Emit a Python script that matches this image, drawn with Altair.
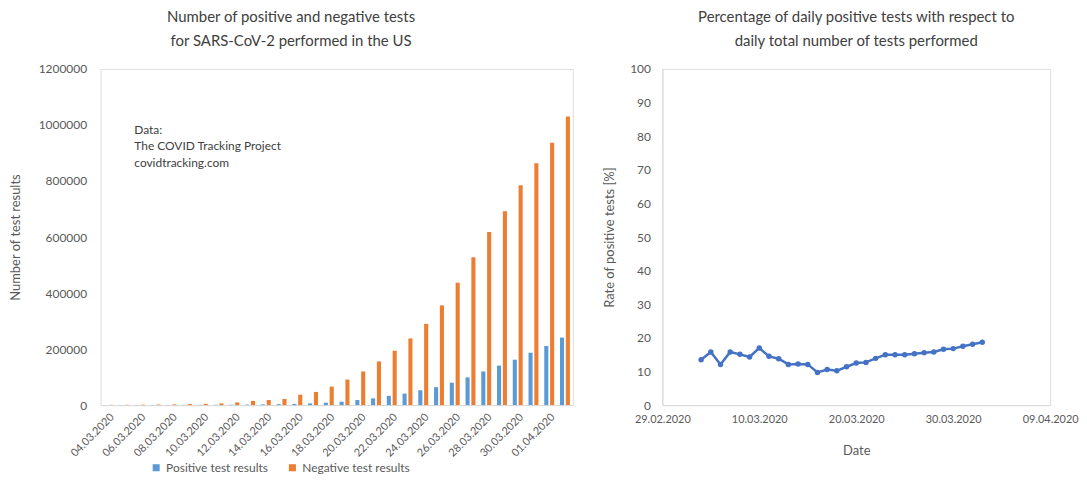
import altair as alt
import pandas as pd

# ---------------- data ----------------
dates = [
    "2020-03-04", "2020-03-05", "2020-03-06", "2020-03-07", "2020-03-08",
    "2020-03-09", "2020-03-10", "2020-03-11", "2020-03-12", "2020-03-13",
    "2020-03-14", "2020-03-15", "2020-03-16", "2020-03-17", "2020-03-18",
    "2020-03-19", "2020-03-20", "2020-03-21", "2020-03-22", "2020-03-23",
    "2020-03-24", "2020-03-25", "2020-03-26", "2020-03-27", "2020-03-28",
    "2020-03-29", "2020-03-30", "2020-03-31", "2020-04-01", "2020-04-02",
]
positive = [150, 200, 250, 350, 420, 580, 780, 1050, 1300, 1900,
            2500, 3200, 4000, 6000, 8500, 12000, 18000, 24000, 33000, 41000,
            53000, 64000, 80000, 99000, 120000, 141000, 162000, 187000, 211000, 241000]
negative = [800, 1000, 1500, 2000, 2500, 3500, 4500, 6000, 9500, 15000,
            18000, 22000, 37000, 47000, 66000, 91000, 120000, 156000, 194000, 238000,
            290000, 356000, 437000, 528000, 618000, 692000, 785000, 863000, 937000, 1030000]
rate = [13.5, 15.8, 12.1, 15.8, 15.1, 14.3, 17.0, 14.5, 13.8, 12.1,
        12.2, 12.1, 9.7, 10.6, 10.2, 11.4, 12.5, 12.7, 13.9, 15.0,
        15.0, 15.0, 15.3, 15.6, 15.8, 16.6, 16.8, 17.5, 18.1, 18.7]

series = ["Positive test results", "Negative test results"]
series_colors = ["#5B9BD5", "#ED7D31"]
count_ticks = [0, 200000, 400000, 600000, 800000, 1000000, 1200000]
rate_ticks = [0, 10, 20, 30, 40, 50, 60, 70, 80, 90, 100]
date_ticks = ["2020-02-29", "2020-03-10", "2020-03-20", "2020-03-30", "2020-04-09"]
note_lines = ["Data:", "The COVID Tracking Project", "covidtracking.com"]

left_title = ["Number of positive and negative tests", "for SARS-CoV-2 performed in the US"]
right_title = ["Percentage of daily positive tests with respect to", "daily total number of tests performed"]

# ---------------- styling ----------------
FONT = "Lato"
TXT = "#595959"
TITLE = "#404040"
AXIS = "#d9d9d9"
LINE = "#4472C4"

labels = pd.to_datetime(pd.Series(dates)).dt.strftime("%d.%m.%Y").tolist()

bar_df = pd.DataFrame({
    "label": labels + labels,
    "result": [series[0]] * len(labels) + [series[1]] * len(labels),
    "count": positive + negative,
})

rate_df = pd.DataFrame({"date": pd.to_datetime(pd.Series(dates)), "rate": rate})


def dt(s):
    y, m, d = (int(v) for v in s.split("-"))
    return alt.DateTime(year=y, month=m, date=d)


bars = alt.Chart(bar_df).mark_bar().encode(
    x=alt.X(
        "label:N", sort=labels,
        scale=alt.Scale(paddingInner=0.37, paddingOuter=0.185),
        axis=alt.Axis(title=None, values=labels[::2], labelAngle=-45, labelFontSize=11,
                      labelColor=TXT, labelFont=FONT, domainColor=AXIS, ticks=False,
                      labelPadding=6),
    ),
    xOffset=alt.XOffset("result:N", sort=series, scale=alt.Scale(paddingInner=0.3)),
    y=alt.Y(
        "count:Q", scale=alt.Scale(domain=[0, 1200000]),
        axis=alt.Axis(title="Number of test results", values=count_ticks, format="d",
                      grid=False, domain=False, ticks=False, labelPadding=14,
                      titlePadding=16, labelFontSize=12, labelColor=TXT, labelFont=FONT,
                      titleFont=FONT, titleFontSize=13, titleFontWeight="normal",
                      titleColor=TXT),
    ),
    color=alt.Color(
        "result:N", sort=series,
        scale=alt.Scale(domain=series, range=series_colors),
        legend=alt.Legend(title=None, orient="none", legendX=50, legendY=395,
                          direction="horizontal", symbolType="square", symbolSize=50,
                          symbolStrokeWidth=0, labelFontSize=12, labelFont=FONT,
                          labelColor=TXT, columnPadding=18),
    ),
)

note = alt.Chart(alt.Data(values=[{}])).mark_text(
    text=note_lines, align="left", baseline="middle", fontSize=12, font=FONT,
    color=TITLE, lineHeight=17,
).encode(x=alt.value(34), y=alt.value(61))

left = alt.layer(bars, note).properties(
    width=475, height=338,
    title=alt.TitleParams(text=left_title, fontSize=15, font=FONT, fontWeight="normal",
                          color=TITLE, lineHeight=24, offset=14, anchor="middle",
                          frame="bounds"),
)

right = alt.Chart(rate_df).mark_line(
    color=LINE, strokeWidth=2.5,
    point=alt.OverlayMarkDef(color=LINE, size=30, filled=True),
).encode(
    x=alt.X(
        "date:T",
        scale=alt.Scale(domain=[dt(date_ticks[0]), dt(date_ticks[-1])]),
        axis=alt.Axis(title="Date", values=[dt(d) for d in date_ticks], format="%d.%m.%Y",
                      grid=False, ticks=False, domainColor=AXIS, labelPadding=9,
                      titlePadding=20, labelFontSize=11, labelColor=TXT, labelFont=FONT,
                      titleFont=FONT, titleFontSize=13, titleFontWeight="normal",
                      titleColor=TXT, labelOverlap=False, labelFlush=False),
    ),
    y=alt.Y(
        "rate:Q", scale=alt.Scale(domain=[0, 100]),
        axis=alt.Axis(title="Rate of positive tests [%]", values=rate_ticks, grid=False,
                      ticks=False, domainColor=AXIS, labelPadding=12, titlePadding=13,
                      labelFontSize=12, labelColor=TXT, labelFont=FONT, titleFont=FONT,
                      titleFontSize=13, titleFontWeight="normal", titleColor=TXT),
    ),
).properties(
    width=390, height=338,
    title=alt.TitleParams(text=right_title, fontSize=15, font=FONT, fontWeight="normal",
                          color=TITLE, lineHeight=24, offset=14, anchor="middle",
                          frame="group"),
)

chart = alt.hconcat(left, right, spacing=29).properties(
    padding={"left": 0, "top": 0, "right": 0, "bottom": 0}
).configure_view(stroke=None).configure(font=FONT)

chart.save("out.html", embed_options={"renderer": "svg", "actions": False})
